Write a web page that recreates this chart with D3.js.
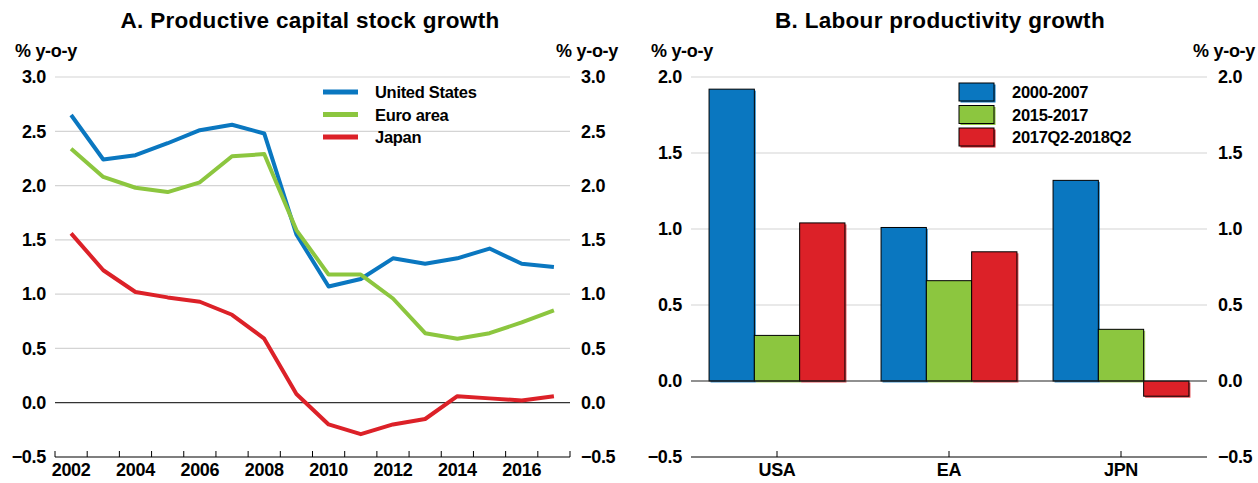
<!DOCTYPE html>
<html>
<head>
<meta charset="utf-8">
<script src="https://cdn.jsdelivr.net/npm/d3@7"></script>
<style>
	body { margin: 0; background: #fff; }
	svg { display: block; font-family: "Liberation Sans", Arial, sans-serif; font-weight: bold; }
</style>
</head>
<body>
<svg id="chart" width="1258" height="483"></svg>
<script>
// Panel A: productive capital stock growth, % y-o-y
const years = d3.range(2002, 2018);
const yearLabels = [2002, 2004, 2006, 2008, 2010, 2012, 2014, 2016];
const unitedStates = [2.65, 2.24, 2.28, 2.39, 2.51, 2.56, 2.48, 1.55, 1.07, 1.14, 1.33, 1.28, 1.33, 1.42, 1.28, 1.25];
const euroArea = [2.34, 2.08, 1.98, 1.94, 2.03, 2.27, 2.29, 1.59, 1.18, 1.18, 0.96, 0.64, 0.59, 0.64, 0.74, 0.85];
const japan = [1.56, 1.22, 1.02, 0.97, 0.93, 0.81, 0.59, 0.08, -0.20, -0.29, -0.20, -0.15, 0.06, 0.04, 0.02, 0.06];
const ticksA = [-0.5, 0, 0.5, 1, 1.5, 2, 2.5, 3];

// Panel B: labour productivity growth, % y-o-y
const countries = ["USA", "EA", "JPN"];
const periods = ["2000-2007", "2015-2017", "2017Q2-2018Q2"];
const p2000_2007 = [1.92, 1.01, 1.32];
const p2015_2017 = [0.30, 0.66, 0.34];
const p2017_2018 = [1.04, 0.85, -0.10];
const ticksB = [-0.5, 0, 0.5, 1, 1.5, 2];

const colors = { blue: "#0a77c0", green: "#8cc63f", red: "#dc2128" };
const fmt = d3.format(".1f");

const svg = d3.select("#chart");

function frame(x0, x1, yScale, ticks, title, titleX) {
	const g = svg.append("g");

	g.append("text")
		.attr("x", titleX).attr("y", 28)
		.attr("text-anchor", "middle")
		.style("font-size", "22.5px")
		.style("letter-spacing", "0.3px")
		.text(title);

	g.append("text").attr("x", x0 - 40).attr("y", 57).style("font-size", "18px").style("letter-spacing", "-0.3px").text("% y-o-y");
	g.append("text").attr("x", x1 + 48).attr("y", 57).attr("text-anchor", "end").style("font-size", "18px").style("letter-spacing", "-0.3px").text("% y-o-y");

	g.append("g").classed("grid", true)
		.selectAll("line")
		.data(ticks.filter(t => t !== 0 && t !== ticks[0])).enter()
		.append("line")
		.attr("x1", x0).attr("x2", x1)
		.attr("y1", d => yScale(d)).attr("y2", d => yScale(d))
		.attr("stroke", "#d4d4d4").attr("stroke-width", 1.2);

	const left = d3.axisLeft(yScale).tickValues(ticks).tickSize(0).tickPadding(9).tickFormat(fmt);
	const right = d3.axisRight(yScale).tickValues(ticks).tickSize(0).tickPadding(11).tickFormat(fmt);

	[[left, x0], [right, x1]].forEach(([axis, x]) => {
		const a = g.append("g").attr("transform", `translate(${x},0)`).call(axis);
		a.select(".domain").remove();
		a.selectAll("text").style("font-size", "18px").style("font-family", "inherit").style("letter-spacing", "-0.3px").attr("fill", "#000");
	});

	return g;
}

// ---------- Panel A ----------
const xA = d3.scaleBand().domain(years).range([55, 570]);
const yA = d3.scaleLinear().domain([-0.5, 3]).range([457, 77]);
const gA = frame(55, 570, yA, ticksA, "A. Productive capital stock growth", 310);

gA.append("line")
	.attr("x1", 55).attr("x2", 570)
	.attr("y1", yA(0)).attr("y2", yA(0))
	.attr("stroke", "#333").attr("stroke-width", 1.2);

const axisA = gA.append("g").attr("transform", `translate(0,${yA(-0.5)})`);
axisA.append("line").attr("x1", 55).attr("x2", 570).attr("stroke", "#000").attr("stroke-width", 1.2);
axisA.selectAll("line.tick")
	.data(years.concat([2018])).enter()
	.append("line")
	.classed("tick", true)
	.attr("x1", d => d === 2018 ? 570 : xA(d)).attr("x2", d => d === 2018 ? 570 : xA(d))
	.attr("y1", 0).attr("y2", -6)
	.attr("stroke", "#000");
axisA.selectAll("text")
	.data(yearLabels).enter()
	.append("text")
	.attr("x", d => xA(d) + xA.bandwidth() / 2)
	.attr("y", 19)
	.attr("text-anchor", "middle")
	.style("font-size", "18px")
	.style("letter-spacing", "-0.3px")
	.text(d => d);

const seriesA = [
	{ name: "United States", values: unitedStates, color: colors.blue },
	{ name: "Euro area", values: euroArea, color: colors.green },
	{ name: "Japan", values: japan, color: colors.red }
];

const line = d3.line()
	.x((d, i) => xA(years[i]) + xA.bandwidth() / 2)
	.y(d => yA(d));

gA.append("g").selectAll("path")
	.data(seriesA).enter()
	.append("path")
	.attr("d", d => line(d.values))
	.attr("fill", "none")
	.attr("stroke", d => d.color)
	.attr("stroke-width", 4)
	.attr("stroke-linejoin", "round");

const legA = gA.append("g").selectAll("g")
	.data(seriesA).enter()
	.append("g")
	.attr("transform", (d, i) => `translate(323,${92 + i * 22.5})`);
legA.append("line").attr("x1", 0).attr("x2", 35).attr("stroke", d => d.color).attr("stroke-width", 5);
legA.append("text").attr("x", 52).attr("y", 6).style("font-size", "16.5px").style("letter-spacing", "-0.3px").text(d => d.name);

// ---------- Panel B ----------
const xB = d3.scaleBand().domain(countries).range([691, 1207]).paddingInner(0.21).paddingOuter(0.105);
const xSub = d3.scaleBand().domain(periods).range([0, xB.bandwidth()]);
const yB = d3.scaleLinear().domain([-0.5, 2]).range([457, 77]);
const gB = frame(691, 1207, yB, ticksB, "B. Labour productivity growth", 940);

const seriesB = [
	{ name: periods[0], values: p2000_2007, color: colors.blue },
	{ name: periods[1], values: p2015_2017, color: colors.green },
	{ name: periods[2], values: p2017_2018, color: colors.red }
];

const bars = [];
seriesB.forEach(s => s.values.forEach((v, i) => bars.push({ country: countries[i], period: s.name, value: v, color: s.color })));

const barG = gB.append("g");
const barX = d => xB(d.country) + xSub(d.period);
const barY = d => yB(Math.max(0, d.value));
const barH = d => Math.abs(yB(d.value) - yB(0));

barG.selectAll("rect.shadow")
	.data(bars).enter()
	.append("rect")
	.classed("shadow", true)
	.attr("x", d => barX(d) + 1.5).attr("y", d => barY(d) + 1.5)
	.attr("width", xSub.bandwidth()).attr("height", barH)
	.attr("fill", d => d.color).attr("opacity", 0.8);

barG.selectAll("rect.bar")
	.data(bars).enter()
	.append("rect")
	.classed("bar", true)
	.attr("x", barX).attr("y", barY)
	.attr("width", xSub.bandwidth()).attr("height", barH)
	.attr("fill", d => d.color)
	.attr("stroke", "#000").attr("stroke-width", 1);

gB.append("line")
	.attr("x1", 691).attr("x2", 1207)
	.attr("y1", yB(0)).attr("y2", yB(0))
	.attr("stroke", "#222").attr("stroke-width", 1.2);

const axisB = gB.append("g").attr("transform", `translate(0,${yB(-0.5)})`);
axisB.append("line").attr("x1", 691).attr("x2", 1207).attr("stroke", "#000").attr("stroke-width", 1.2);
axisB.selectAll("line.tick")
	.data(countries).enter()
	.append("line")
	.classed("tick", true)
	.attr("x1", d => xB(d) + xB.bandwidth() / 2).attr("x2", d => xB(d) + xB.bandwidth() / 2)
	.attr("y1", 0).attr("y2", -6)
	.attr("stroke", "#000");
axisB.selectAll("text")
	.data(countries).enter()
	.append("text")
	.attr("x", d => xB(d) + xB.bandwidth() / 2)
	.attr("y", 19)
	.attr("text-anchor", "middle")
	.style("font-size", "18px")
	.style("letter-spacing", "-0.3px")
	.text(d => d);

const legB = gB.append("g").selectAll("g")
	.data(seriesB).enter()
	.append("g")
	.attr("transform", (d, i) => `translate(959,${83 + i * 22.5})`);
legB.append("rect").attr("x", 1.5).attr("y", 1.5).attr("width", 35).attr("height", 18).attr("fill", d => d.color);
legB.append("rect").attr("width", 35).attr("height", 18).attr("fill", d => d.color).attr("stroke", "#000");
legB.append("text").attr("x", 53).attr("y", 15).style("font-size", "16.5px").style("letter-spacing", "-0.3px").text(d => d.name);
</script>
</body>
</html>
